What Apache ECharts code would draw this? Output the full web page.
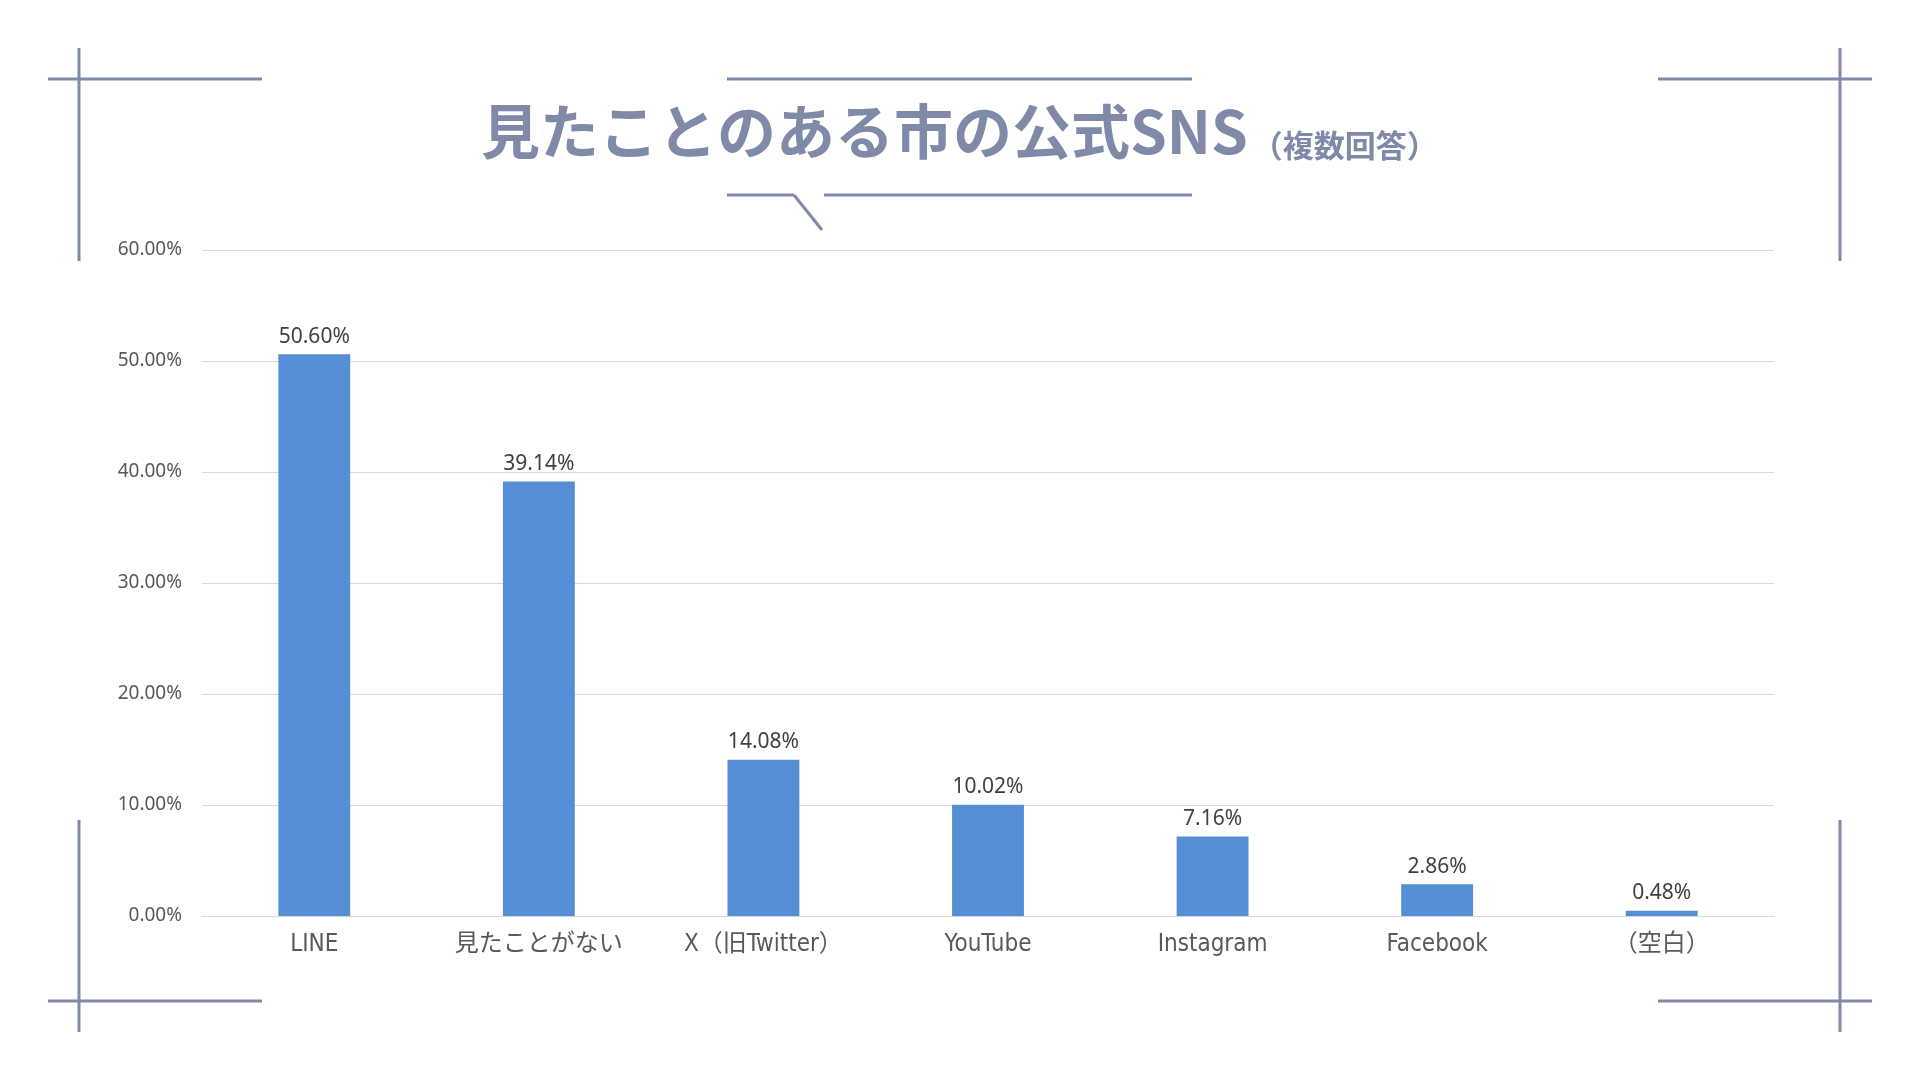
<!DOCTYPE html>
<html>
<head>
<meta charset="utf-8">
<title>見たことのある市の公式SNS</title>
<script src="https://cdn.jsdelivr.net/npm/echarts@6/dist/echarts.min.js"></script>
<style>
  html, body { margin: 0; padding: 0; background: #ffffff; }
  #chart { width: 1920px; height: 1080px; }
</style>
</head>
<body>
<div id="chart"></div>
<script>
// data
const categories = ['LINE', '見たことがない', 'X（旧Twitter）', 'YouTube', 'Instagram', 'Facebook', '（空白）'];
const shares = [50.60, 39.14, 14.08, 10.02, 7.16, 2.86, 0.48];
const yTicks = [0, 10, 20, 30, 40, 50, 60];

const titleText = '見たことのある市の公式SNS';
const subtitleText = '（複数回答）';

const accent = '#7f8aa8';
const barColor = '#558ed5';
const jpFont = '"Noto Sans CJK JP", "Noto Sans", sans-serif';
const condensedFont = '"DejaVu Sans Condensed", "Liberation Sans Narrow", "Noto Sans CJK JP", sans-serif';

// corner brackets and the speech bubble frame round the title
function line(x1, y1, x2, y2) {
  return {
    type: 'line',
    shape: {x1: x1, y1: y1, x2: x2, y2: y2},
    style: {stroke: accent, lineWidth: 3}
  };
}

const frame = [
  // top left
  line(79, 48, 79, 261), line(48, 79, 262, 79),
  // top right
  line(1840, 48, 1840, 261), line(1658, 79, 1872, 79),
  // bottom left
  line(79, 820, 79, 1032), line(48, 1001, 262, 1001),
  // bottom right
  line(1840, 820, 1840, 1032), line(1658, 1001, 1872, 1001),
  // title bubble
  line(727, 79, 1192, 79),
  line(727, 195, 794, 195),
  line(824, 195, 1192, 195),
  line(794, 195, 822, 230)
];

const chart = echarts.init(document.getElementById('chart'));
chart.setOption({
  backgroundColor: '#ffffff',
  animation: false,
  title: {
    text: '{main|' + titleText + '}{sub|' + subtitleText + '}',
    left: 481,
    top: 98,
    padding: 0,
    textStyle: {
      rich: {
        main: {fontFamily: jpFont, fontSize: 59, fontWeight: 'bold', color: accent, verticalAlign: 'bottom', lineHeight: 63},
        sub: {fontFamily: jpFont, fontSize: 31, fontWeight: 'bold', color: accent, verticalAlign: 'bottom', lineHeight: 62, padding: [0, 0, 0, 4]}
      }
    }
  },
  graphic: frame,
  grid: {left: 202, right: 146, top: 250, bottom: 164},
  xAxis: {
    type: 'category',
    data: categories,
    axisLine: {lineStyle: {color: '#d9d9d9', width: 1}},
    axisTick: {show: false},
    axisLabel: {
      margin: 17,
      interval: 0,
      fontFamily: condensedFont,
      fontSize: 24,
      color: '#595959'
    }
  },
  yAxis: {
    type: 'value',
    min: yTicks[0],
    max: yTicks[yTicks.length - 1],
    interval: yTicks[1] - yTicks[0],
    axisLine: {show: false},
    axisTick: {show: false},
    splitLine: {lineStyle: {color: '#d9d9d9', width: 1}},
    axisLabel: {
      margin: 20,
      fontFamily: '"Noto Sans", sans-serif',
      fontSize: 19,
      color: '#595959',
      formatter: v => v.toFixed(2) + '%'
    }
  },
  series: [
    {
      type: 'bar',
      data: shares,
      barWidth: '32%',
      itemStyle: {color: barColor},
      label: {
        show: true,
        position: 'top',
        distance: 7,
        fontFamily: '"Noto Sans", sans-serif',
        fontSize: 21,
        color: '#404040',
        formatter: p => p.value.toFixed(2) + '%'
      }
    }
  ]
});
</script>
</body>
</html>
